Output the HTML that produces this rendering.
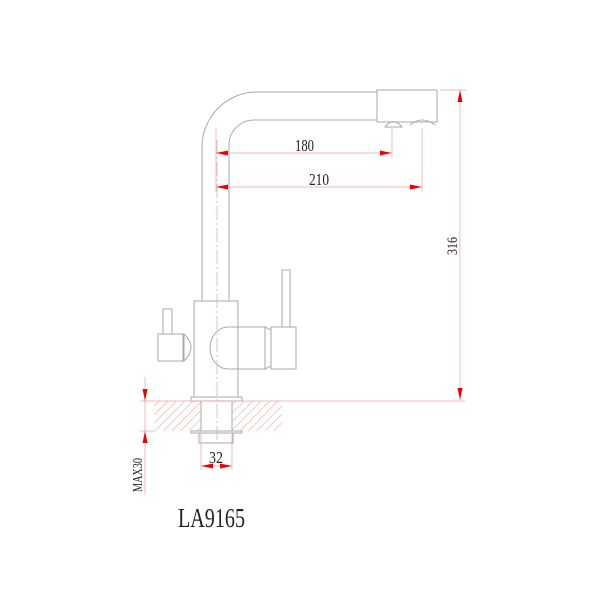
<!DOCTYPE html>
<html><head><style>body{margin:0;background:#fff}</style></head><body>
<svg width="600" height="600" viewBox="0 0 600 600" xmlns="http://www.w3.org/2000/svg">
<defs>
<pattern id="h" width="6" height="6" patternUnits="userSpaceOnUse" patternTransform="rotate(45)">
<line x1="0" y1="0" x2="0" y2="6" stroke="#e08888" stroke-width="0.9"/>
</pattern>
</defs>
<g fill="none" stroke="#aaa" stroke-width="1">
<path d="M202,301 V147 A55,55 0 0 1 257,92 H377"/>
<path d="M229,301 V145 A25,25 0 0 1 254,120 H377"/>
<rect x="377" y="90" width="60" height="32"/>
<path d="M385,127 Q393,116 402,127 Z"/>
<path d="M410,125 Q422,115 435,125"/>
<rect x="194" y="301" width="44" height="96"/>
<rect x="158" y="334" width="26" height="27"/>
<path d="M184,334 Q198,347 184,361"/>
<line x1="183" y1="334" x2="183" y2="361"/>
<rect x="163" y="309" width="9" height="25"/>
<path d="M238,327 H228 A18,21 0 0 0 228,369 H238"/>
<path d="M228,327 H265 V369 H228"/>
<path d="M265,327 L271,330 V366 L265,369"/>
<rect x="271" y="327" width="25" height="42"/>
<rect x="282" y="270" width="8" height="57"/>
<rect x="191" y="397" width="51" height="4"/>
<rect x="201" y="401" width="31" height="30"/>
<rect x="191" y="431" width="51" height="2"/>
<rect x="199" y="433" width="34" height="10"/>
</g>
<rect x="154" y="401" width="47" height="30" fill="url(#h)"/>
<rect x="232" y="401" width="50" height="30" fill="url(#h)"/>
<g stroke="#e8a0a0" stroke-width="0.7" fill="none">
<line x1="217" y1="140" x2="217" y2="440" stroke-dasharray="14,3,2,3"/>
<line x1="140" y1="401" x2="465" y2="401"/>
<line x1="140" y1="431" x2="154" y2="431"/>
<line x1="440" y1="90" x2="466" y2="90"/>
<line x1="216" y1="128" x2="216" y2="192"/>
<line x1="392" y1="128" x2="392" y2="158"/>
<line x1="422" y1="128" x2="422" y2="192"/>
<line x1="216" y1="153" x2="392" y2="153"/>
<line x1="216" y1="187" x2="422" y2="187"/>
<line x1="460" y1="90" x2="460" y2="400"/>
<line x1="145" y1="377" x2="145" y2="495"/>
<line x1="201" y1="433" x2="201" y2="470"/>
<line x1="232" y1="433" x2="232" y2="470"/>
<line x1="201" y1="466" x2="232" y2="466"/>
</g>
<g fill="#e00">
<path d="M216,153 l12,-2.5 v5z"/><path d="M392,153 l-12,-2.5 v5z"/>
<path d="M216,187 l12,-2.5 v5z"/><path d="M422,187 l-12,-2.5 v5z"/>
<path d="M460,90 l-2.5,12 h5z"/><path d="M460,400 l-2.5,-12 h5z"/>
<path d="M145,401 l-2.5,-12 h5z"/><path d="M145,431 l-2.5,12 h5z"/>
<path d="M201,466 l12,-2.5 v5z"/><path d="M232,466 l-12,-2.5 v5z"/>
</g>
<g font-family="Liberation Serif, serif" fill="#222">
<text x="295" y="151" font-size="17" textLength="19" lengthAdjust="spacingAndGlyphs">180</text>
<text x="309" y="185" font-size="17" textLength="20" lengthAdjust="spacingAndGlyphs">210</text>
<text x="209" y="463" font-size="17" textLength="14" lengthAdjust="spacingAndGlyphs">32</text>
<text transform="translate(457,255) rotate(-90)" font-size="15" textLength="18" lengthAdjust="spacingAndGlyphs">316</text>
<text transform="translate(142,492) rotate(-90)" font-size="14" textLength="34" lengthAdjust="spacingAndGlyphs">MAX30</text>
<text x="178" y="527" font-size="27" textLength="67" lengthAdjust="spacingAndGlyphs">LA9165</text>
</g>
</svg>
</body></html>
